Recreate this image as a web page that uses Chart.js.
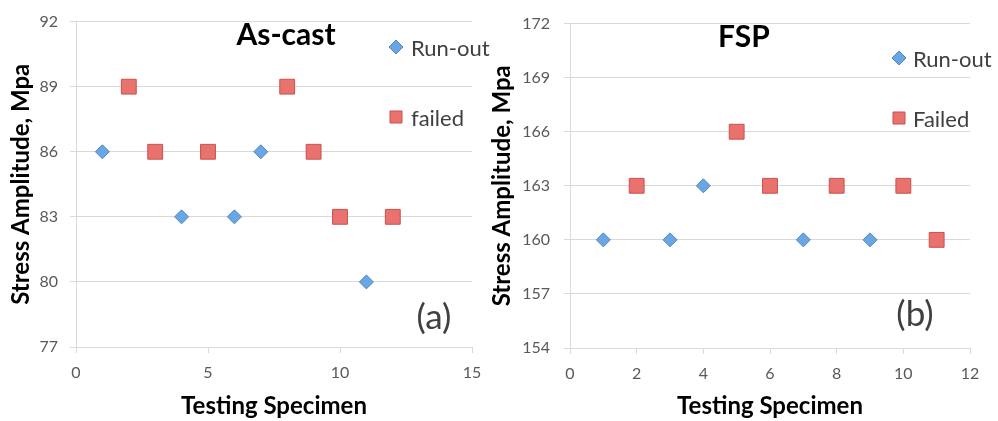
<!DOCTYPE html>
<html>
<head>
<meta charset="utf-8">
<script src="https://cdn.jsdelivr.net/npm/chart.js@4/dist/chart.umd.min.js"></script>
<style>
  html, body { margin: 0; padding: 0; background: #ffffff; }
  #wrap { position: relative; width: 998px; height: 421px; overflow: hidden; }
  #wrap canvas { position: absolute; top: 0; }
  #castChart { left: 0; }
  #fspChart { left: 485px; }
</style>
</head>
<body>
<div id="wrap">
  <canvas id="castChart" width="500" height="421"></canvas>
  <canvas id="fspChart" width="513" height="421"></canvas>
</div>
<script>
// (a) As-cast specimens: specimen number and stress amplitude (MPa)
const castRunoutSpecimen = [1, 4, 6, 7, 11];
const castRunoutStress   = [86, 83, 83, 86, 80];
const castFailedSpecimen = [2, 3, 5, 8, 9, 10, 12];
const castFailedStress   = [89, 86, 86, 89, 86, 83, 83];
const castXTicks = [0, 5, 10, 15];
const castYTicks = [77, 80, 83, 86, 89, 92];

// (b) FSP specimens
const fspRunoutSpecimen = [1, 3, 4, 7, 9];
const fspRunoutStress   = [160, 160, 163, 160, 160];
const fspFailedSpecimen = [2, 5, 6, 8, 10, 11];
const fspFailedStress   = [163, 166, 163, 163, 163, 160];
const fspXTicks = [0, 2, 4, 6, 8, 10, 12];
const fspYTicks = [154, 157, 160, 163, 166, 169, 172];

const FONT = 'Lato, "Open Sans", "Liberation Sans", sans-serif';
const GRID = '#d9d9d9';
const TICK_TEXT = '#595959';

function toPoints(xs, ys) {
  return xs.map((x, i) => ({ x: x, y: ys[i] }));
}

const runoutStyle = {
  pointStyle: 'rectRot',
  pointRadius: 7,
  pointHoverRadius: 7,
  backgroundColor: '#6aa5e4',
  borderColor: '#4f86c6',
  borderWidth: 1,
  showLine: false
};
const failedStyle = {
  pointStyle: 'rect',
  pointRadius: 10.5,
  pointHoverRadius: 10.5,
  backgroundColor: '#e9716e',
  borderColor: '#c9524e',
  borderWidth: 1,
  showLine: false
};

// Heading, side legend and panel tag drawn inside the plot
const panelText = {
  id: 'panelText',
  afterDatasetsDraw(chart, args, opts) {
    const ctx = chart.ctx;
    ctx.save();
    // heading
    ctx.font = 'bold 30px ' + FONT;
    ctx.fillStyle = '#000000';
    ctx.textAlign = 'center';
    ctx.textBaseline = 'middle';
    ctx.fillText(opts.heading.text, opts.heading.x, opts.heading.y);
    // legend
    chart.data.datasets.forEach((ds, i) => {
      const y = opts.legend.y[i];
      const r = ds.pointStyle === 'rect' ? 8.5 : 7;
      ctx.fillStyle = ds.backgroundColor;
      ctx.strokeStyle = ds.borderColor;
      ctx.lineWidth = 1;
      Chart.helpers.drawPoint(ctx, { pointStyle: ds.pointStyle, radius: r, borderWidth: 1, rotation: 0 }, opts.legend.x, y);
      ctx.font = '22px ' + FONT;
      ctx.fillStyle = '#404040';
      ctx.textAlign = 'left';
      ctx.textBaseline = 'middle';
      ctx.fillText(ds.label, opts.legend.textX, y + 2);
    });
    // panel tag
    ctx.font = '35px ' + FONT;
    ctx.fillStyle = '#404040';
    ctx.textAlign = 'center';
    ctx.textBaseline = 'middle';
    ctx.fillText(opts.tag.text, opts.tag.x, opts.tag.y);
    ctx.restore();
  }
};

function makeChart(canvasId, cfg) {
  return new Chart(document.getElementById(canvasId), {
    type: 'scatter',
    data: {
      datasets: [
        Object.assign({ label: 'Run-out', data: toPoints(cfg.runX, cfg.runY) }, runoutStyle),
        Object.assign({ label: cfg.failedLabel, data: toPoints(cfg.failX, cfg.failY) }, failedStyle)
      ]
    },
    options: {
      responsive: false,
      animation: false,
      events: [],
      layout: { padding: { top: cfg.padTop, right: cfg.padRight, left: 0, bottom: 0 } },
      plugins: {
        legend: { display: false },
        tooltip: { enabled: false },
        panelText: cfg.text
      },
      scales: {
        x: {
          type: 'linear',
          min: cfg.xTicks[0],
          max: cfg.xTicks[cfg.xTicks.length - 1],
          afterBuildTicks: s => { s.ticks = cfg.xTicks.map(v => ({ value: v })); },
          afterFit: s => { s.height = cfg.xHeight; },
          grid: { drawOnChartArea: false, drawTicks: true, tickLength: 6, color: GRID, lineWidth: 1 },
          border: { display: true, color: GRID, width: 1 },
          ticks: { padding: 10, color: TICK_TEXT, font: { family: FONT, size: 16 }, maxRotation: 0 },
          title: {
            display: true, text: 'Testing Specimen', color: '#000000',
            font: { family: FONT, size: 24, weight: 'bold' },
            padding: { top: 0, bottom: 0 }
          }
        },
        y: {
          type: 'linear',
          min: cfg.yTicks[0],
          max: cfg.yTicks[cfg.yTicks.length - 1],
          afterBuildTicks: s => { s.ticks = cfg.yTicks.map(v => ({ value: v })); },
          afterFit: s => { s.width = cfg.yWidth; },
          grid: { drawTicks: true, tickLength: 6, color: GRID, lineWidth: 1 },
          border: { display: true, color: GRID, width: 1 },
          ticks: { padding: cfg.yTickPad, color: TICK_TEXT, font: { family: FONT, size: 16 } },
          title: {
            display: true, text: 'Stress Amplitude, Mpa', color: '#000000',
            font: { family: FONT, size: 24, weight: 'bold' },
            padding: { top: cfg.yTitlePad, bottom: 0 }
          }
        }
      }
    },
    plugins: [panelText]
  });
}

makeChart('castChart', {
  runX: castRunoutSpecimen, runY: castRunoutStress,
  failX: castFailedSpecimen, failY: castFailedStress,
  failedLabel: 'failed',
  xTicks: castXTicks, yTicks: castYTicks,
  padTop: 15, padRight: 28, xHeight: 74, yWidth: 76, yTickPad: 12, yTitlePad: 7,
  text: {
    heading: { text: 'As-cast', x: 286, y: 35 },
    legend: { x: 396, y: [47, 117], textX: 411 },
    tag: { text: '(a)', x: 434, y: 318 }
  }
});

makeChart('fspChart', {
  runX: fspRunoutSpecimen, runY: fspRunoutStress,
  failX: fspFailedSpecimen, failY: fspFailedStress,
  failedLabel: 'Failed',
  xTicks: fspXTicks, yTicks: fspYTicks,
  padTop: 18, padRight: 28, xHeight: 73, yWidth: 85, yTickPad: 14, yTitlePad: 3,
  text: {
    heading: { text: 'FSP', x: 259, y: 37 },
    legend: { x: 414, y: [58, 118], textX: 428 },
    tag: { text: '(b)', x: 430, y: 315 }
  }
});
</script>
</body>
</html>
